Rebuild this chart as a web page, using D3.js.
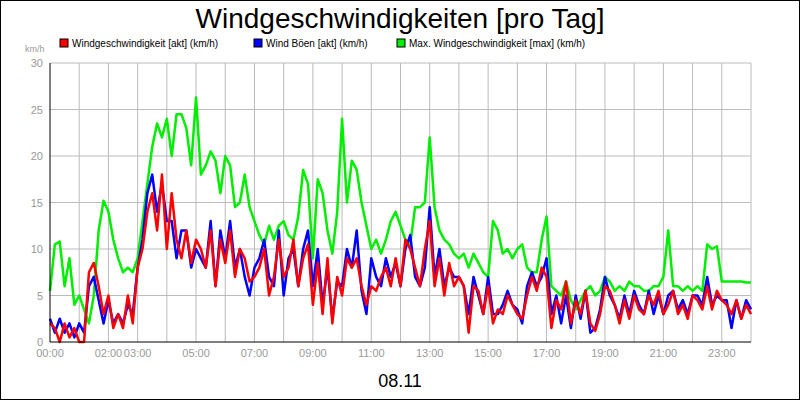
<!DOCTYPE html>
<html><head><meta charset="utf-8">
<script src="https://cdn.jsdelivr.net/npm/d3@7"></script>
<style>body{margin:0;background:#fff}svg{display:block;font-family:"Liberation Sans",Arial,sans-serif}</style>
</head><body><svg id="c" width="800" height="400"></svg>
<script>
// values every 10 minutes, 00:00 .. 24:00
const maxWind = [5.5,10.5,10.8,6,9,4, 5,3.5,2,5,12,15.2, 14,11,9,7.5,8,7.5, 9,13,17,21,23.5,22, 24,20,24.5,24.5,23,19,
 26.3,18,19,20.5,19.5,16, 20,19,14.5,15,18,14.5, 13,11.5,10.5,12.5,11,12.5, 13,11.5,11,13.5,18.5,17, 9,17.5,16,12,9.5,14,
 24,15,19.5,18.5,15,12.5, 10,11,9.5,11,13,14, 12.5,11,10.5,14.5,14.5,15, 22,14.5,12,11,10.5,9.5, 9,9.5,8,9.5,8.5,7.5,
 7,13,12,9.5,10,9, 10,10.5,8,7.5,7.5,11, 13.5,6,5.5,5,6.5,4.5, 3.5,4.5,5.5,6,5,5.5, 7,6.5,5.5,6,5.5,6.5,
 6,6,5.5,5.5,6,6, 7,12,6,6,5.5,6, 5.5,6,5.5,10.5,10,10.3, 6.5,6.5,6.5,6.5,6.5,6.4, 6.4];
const gust = [2.5,1,2.5,1,2,0.5, 2,1,6,7,4.5,2, 4.5,2,3,2,4,3, 8,11,16,18,14,17, 13,13,9,12,12,8,
 10,9,8,13,6,12, 9,13,8,10,7,5, 8,9,11,7,6,12, 5,9,10,6,10,12, 6,10,4,8,2.5,6.5,
 6,10,8,12,5.5,3, 9,7,6,9,7,8.5, 6,10,11.5,7,6,8, 14.5,7,10,6,8,7, 7,6,3,7,5,3,
 7,3,3,4,5.5,4, 3.5,2,6,7.5,6,7, 9,3,5,2,5,1.5, 5,2.5,5.5,1,1.5,3.5, 7,5,4,2.5,5,3,
 5.5,4,3,5.5,3,5, 3,5,5.5,3.5,4.5,3, 5,5,4,7,4,5, 4.5,4.5,1.5,4.5,2.5,4.5, 3.5];
const wind = [2,1.5,0,2,0.5,1.5, 0,0,7.5,8.5,6,3, 5,1.5,3,1.5,5,2, 8,10,14,16,12,18, 10,16,11,9,12,8.5,
 11,10,8,12,6,11, 8.5,12,7,10,9,6.5, 7,8,10,5,7,11, 7,8,11,6,9,10.5, 4,8.5,3,9,2,7,
 5,9,8,9,6,4, 6,5.5,7,8,6,9, 6,11,10,8,6,10, 13,6,9,5,8.5,6, 7,6,1,6,5.5,3,
 6,2,3.5,3,5,4, 3,2.5,5,7,5.5,8, 7,1.5,4.5,3.5,6.5,2, 4.5,3,5.5,2,1.2,3, 6,5.5,4,2,4.5,2.5,
 5,3.5,3,5,4,5.5, 3,4,5.5,3,4,2.5, 5,4.5,3.5,6,3.5,5.5, 4.5,4,3,4.5,2.5,4, 3];
const seriesNames = ["Windgeschwindigkeit [akt] (km/h)","Wind Böen [akt] (km/h)","Max. Windgeschwindigkeit [max] (km/h)"];
const colors = ["#ff0000","#0000ff","#00ee00"];
const hourLabels = ["00:00","02:00","03:00","05:00","07:00","09:00","11:00","13:00","15:00","17:00","19:00","21:00","23:00"];

const svg = d3.select("#c");
const L = 50, R = 751, T = 63, B = 342;
svg.append("rect").attr("x",0.5).attr("y",0.5).attr("width",799).attr("height",399).attr("fill","#fff").attr("stroke","#000");

const x = d3.scaleLinear().domain([0, 24]).range([L, R]);
const y = d3.scaleLinear().domain([0, 30]).range([B, T]);

// grid
svg.append("g").selectAll("line").data(d3.range(1, 25)).join("line")
  .attr("x1", d => x(d)).attr("x2", d => x(d)).attr("y1", T).attr("y2", B)
  .attr("stroke", "#bbb");
svg.append("g").selectAll("line").data(d3.range(5, 31, 5)).join("line")
  .attr("x1", L).attr("x2", R).attr("y1", d => y(d)).attr("y2", d => y(d))
  .attr("stroke", "#bbb");

// y labels
svg.append("g").selectAll("text").data(d3.range(0, 31, 5)).join("text")
  .attr("x", L - 7).attr("y", d => y(d) + 4).attr("text-anchor", "end")
  .attr("font-size", 11).attr("fill", "#999").text(d => d);
svg.append("text").attr("x", 25).attr("y", 52).attr("font-size", 9).attr("fill", "#999").text("km/h");

// x labels
svg.append("g").selectAll("text").data(hourLabels).join("text")
  .attr("x", d => x(+d.slice(0, 2))).attr("y", 357).attr("text-anchor", "middle")
  .attr("font-size", 11).attr("fill", "#999").text(d => d);

// lines
const line = d3.line().x((d, i) => x(i / 6)).y(d => y(d));
[maxWind, gust, wind].forEach((s, k) => {
  svg.append("path").attr("d", line(s)).attr("fill", "none")
    .attr("stroke", colors[2 - k]).attr("stroke-width", 2.5).attr("stroke-linejoin", "round");
});

// axes frame
svg.append("line").attr("x1", L).attr("x2", L).attr("y1", T).attr("y2", B).attr("stroke", "#000");
svg.append("line").attr("x1", L).attr("x2", R).attr("y1", B).attr("y2", B).attr("stroke", "#000");

// title
svg.append("text").attr("x", 400).attr("y", 28).attr("text-anchor", "middle")
  .attr("font-size", 28).text("Windgeschwindigkeiten [pro Tag]");
svg.append("text").attr("x", 400).attr("y", 387).attr("text-anchor", "middle")
  .attr("font-size", 18).text("08.11");

// legend
const legX = [60, 254, 397];
seriesNames.forEach((n, i) => {
  svg.append("rect").attr("x", legX[i]).attr("y", 39).attr("width", 8).attr("height", 8)
    .attr("fill", colors[i]).attr("stroke", "#000");
  svg.append("text").attr("x", legX[i] + 12).attr("y", 47).attr("font-size", 10).text(n);
});
</script></body></html>
